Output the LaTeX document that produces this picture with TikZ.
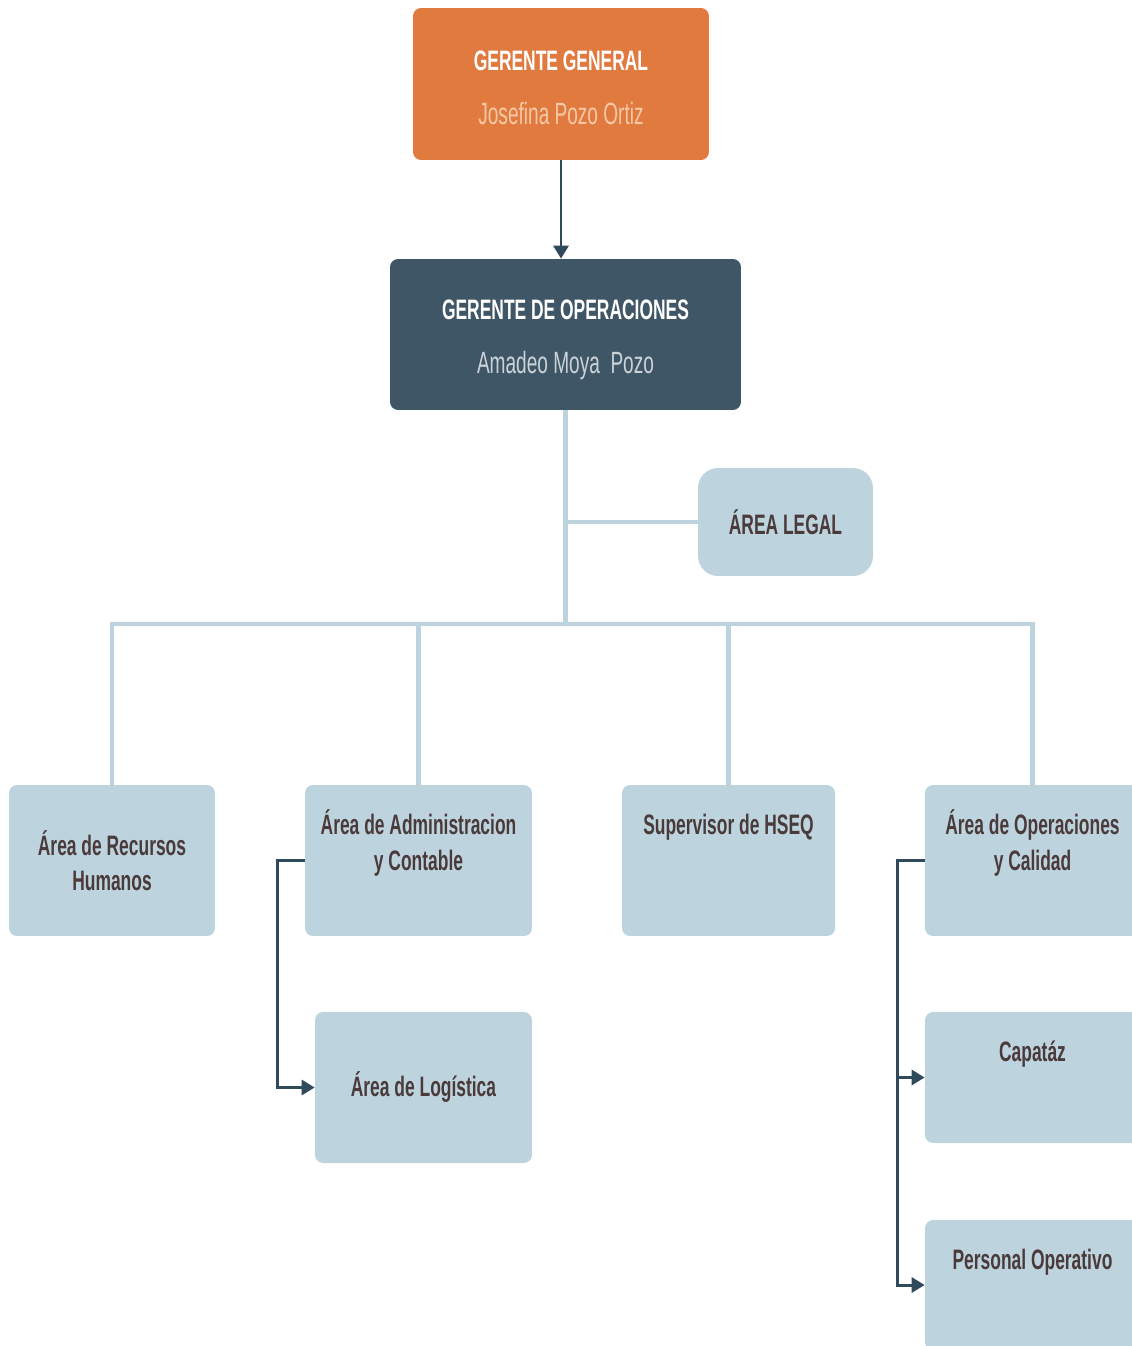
\documentclass[tikz,border=0pt]{standalone}
\usepackage{fontspec}
\setmainfont{Liberation Sans}[FakeStretch=0.62]
\usetikzlibrary{arrows.meta}
\definecolor{naranja}{HTML}{E17A3F}
\definecolor{pizarra}{HTML}{3F5666}
\definecolor{celeste}{HTML}{BDD4DF}
\definecolor{flecha}{HTML}{2F4A5A}
\definecolor{texto}{HTML}{4A3A3A}
\definecolor{durazno}{HTML}{F7C8A6}
\definecolor{gris}{HTML}{CBD3D9}

\begin{document}
\begin{tikzpicture}[x=0.02cm, y=-0.02cm,
    letra/.style={font=\fontsize{16}{20}\selectfont\bfseries},
    caja/.style={rectangle, rounded corners=0.16cm, inner sep=0pt, align=center, letra},
    arriba/.style={label={[anchor=north, inner sep=0pt, yshift=-0.5cm, align=center, letra, text=texto]north:\vphantom{Á}#1}},
    rama/.style={celeste, line width=2.3pt},
    liga/.style={flecha, line width=1.7pt, -{Triangle[length=0.26cm, width=0.3cm]}}]

    \useasboundingbox (0,0) rectangle (1132,1346);

    \node[caja, fill=naranja, text=white, minimum width=5.92cm, minimum height=3.04cm,
        font=\fontsize{16}{31}\selectfont] (a) at (561,84)
        {\rule{0pt}{0.55cm}\bfseries GERENTE GENERAL\\ \fontsize{17.5}{31}\selectfont\mdseries\color{durazno}Josefina Pozo Ortiz};
    \node[caja, fill=pizarra, text=white, minimum width=7.02cm, minimum height=3.02cm,
        font=\fontsize{16}{31}\selectfont] (b) at (565.5,334.5)
        {\rule{0pt}{0.6cm}\bfseries GERENTE DE OPERACIONES\\ \fontsize{17.5}{32}\selectfont\mdseries\color{gris}Amadeo Moya\ \ Pozo};
    \node[caja, fill=celeste, text=texto, rounded corners=0.4cm, minimum width=3.5cm, minimum height=2.16cm] (c) at (785.5,522) {ÁREA LEGAL};
    \node[caja, fill=celeste, text=texto, minimum width=4.12cm, minimum height=3.02cm] (d) at (112,860.5) {Área de Recursos\\Humanos};
    \node[caja, fill=celeste, minimum width=4.54cm, minimum height=3.02cm, arriba={Área de Administracion\\y Contable}] (e) at (418.5,860.5) {};
    \node[caja, fill=celeste, minimum width=4.26cm, minimum height=3.02cm, arriba={Supervisor de HSEQ}] (f) at (728.5,860.5) {};
    \node[caja, fill=celeste, minimum width=4.3cm, minimum height=3.02cm, arriba={Área de Operaciones\\y Calidad}] (g) at (1032.5,860.5) {};
    \node[caja, fill=celeste, text=texto, minimum width=4.34cm, minimum height=3.02cm] (h) at (423.5,1087.5) {Área de Logística};
    \node[caja, fill=celeste, minimum width=4.3cm, minimum height=2.62cm, arriba={Capatáz}] (i) at (1032.5,1077.5) {};
    \node[caja, fill=celeste, minimum width=4.3cm, minimum height=2.6cm, arriba={Personal Operativo}] (j) at (1032.5,1285) {};
    \coordinate (k) at (565.5,624);

    \draw[liga] (a) to (a |- b.north);
    \draw[rama] (b) to (k);
    \draw[rama] (c.west) to (c.west -| k);
    \draw[rama] (d) |- (k) -| (g);
    \draw[rama] (e) to (e |- k);
    \draw[rama] (f) to (f |- k);
    \draw[liga] (e.west) -- ++(-27,0) |- (h.west);
    \draw[liga] (g.west) -- ++(-27,0) |- (i.west);
    \draw[liga] (g.west) -- ++(-27,0) |- (j.west);

\end{tikzpicture}
\end{document}
